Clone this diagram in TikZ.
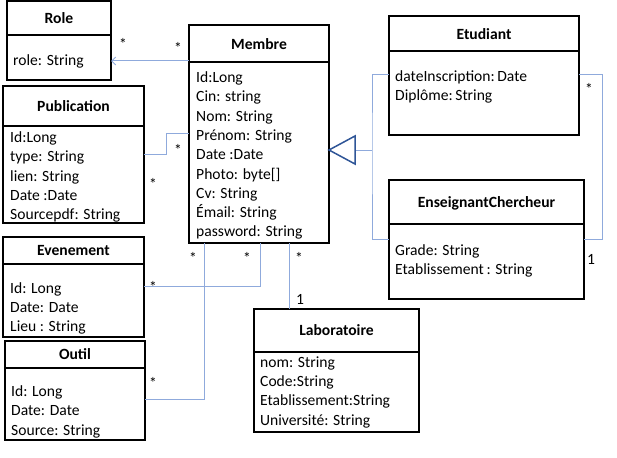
\documentclass[tikz,border=0pt]{standalone}
\usepackage{fontspec}
\setmainfont{Carlito}
\usetikzlibrary{arrows.meta}
\definecolor{conncol}{RGB}{143,170,220}
\definecolor{gencol}{RGB}{47,85,151}
\tikzset{
  cls/.style={draw, line width=1.4pt, inner sep=0pt, outer sep=0pt, anchor=north west},
  divline/.style={line width=1.4pt},
  ttl/.style={font=\fontsize{15.6}{19.3}\selectfont\bfseries, inner sep=0pt},
  attr/.style={font=\fontsize{15.6}{19.3}\selectfont, inner sep=0pt, anchor=base west},
  mult/.style={font=\fontsize{15.6}{19.3}\selectfont, inner sep=0pt, anchor=base},
  conn/.style={draw=conncol, line width=1pt},
}
\begin{document}
\begin{tikzpicture}[x=1pt,y=-1pt]
\useasboundingbox (0,0) rectangle (617,457);
% Boxes
\node[cls, minimum width=104, minimum height=79] (role) at (7,1) {};
\node[cls, minimum width=141, minimum height=137] (pub) at (3,86) {};
\node[cls, minimum width=140, minimum height=218] (membre) at (189,25) {};
\node[cls, minimum width=190, minimum height=119] (etud) at (389,16) {};
\node[cls, minimum width=195, minimum height=119] (ens) at (389,180) {};
\node[cls, minimum width=141, minimum height=100] (even) at (3,237) {};
\node[cls, minimum width=140, minimum height=99] (outil) at (5,341) {};
\node[cls, minimum width=165, minimum height=123] (labo) at (254,309) {};
% dividers
\draw[divline] (role.west |- 0,35) -- (role.east |- 0,35);
\draw[divline] (pub.west |- 0,126) -- (pub.east |- 0,126);
\draw[divline] (membre.west |- 0,62) -- (membre.east |- 0,62);
\draw[divline] (etud.west |- 0,51) -- (etud.east |- 0,51);
\draw[divline] (ens.west |- 0,224) -- (ens.east |- 0,224);
\draw[divline] (even.west |- 0,264) -- (even.east |- 0,264);
\draw[divline] (outil.west |- 0,368) -- (outil.east |- 0,368);
\draw[divline] (labo.west |- 0,352) -- (labo.east |- 0,352);
% titles
\node[ttl] (troleT) at (59,18) {Role};
\node[ttl] (tpubT) at (73.5,106) {Publication};
\node[ttl] (tmemT) at (259,44) {Membre};
\node[ttl] (tetuT) at (484,34) {Etudiant};
\node[ttl] (tensT) at (486.5,203) {EnseignantChercheur};
\node[ttl] (tevT) at (73.5,250.5) {Evenement};
\node[ttl] (toutT) at (75,354.5) {Outil};
\node[ttl] (tlabT) at (336.5,330.5) {Laboratoire};
% attributes
\node[attr] (ra) at (13,66) {role: String};
\foreach \t [count=\i from 0] in {{Id:Long},{type: String},{lien: String},{Date :Date},{Sourcepdf: String}}
  \node[attr] at (10,142.5+19.3*\i) {\t};
\foreach \t [count=\i from 0] in {{Id:Long},{Cin: string},{Nom: String},{Prénom: String},{Date :Date},{Photo: byte[]},{Cv: String},{Émail: String},{password: String}}
  \node[attr] at (196,82.5+19.3*\i) {\t};
\foreach \t [count=\i from 0] in {{dateInscription:\,Date},{Diplôme:\,String}}
  \node[attr] at (395,81.5+19.3*\i) {\t};
\foreach \t [count=\i from 0] in {{Grade: String},{Etablissement\,: String}}
  \node[attr] at (395,255+19.3*\i) {\t};
\foreach \t [count=\i from 0] in {{Id: Long},{Date: Date},{Lieu : String}}
  \node[attr] at (10,293.2+19.3*\i) {\t};
\foreach \t [count=\i from 0] in {{Id: Long},{Date: Date},{Source: String}}
  \node[attr] at (11,396.5+19.3*\i) {\t};
\foreach \t [count=\i from 0] in {{nom: String},{Code:String},{Etablissement:String},{Université: String}}
  \node[attr] at (260,367.2+19.3*\i) {\t};
% connectors
\draw[conn, -{Straight Barb[length=4pt,width=8pt]}] (membre.west |- 0,61) -- (role.east |- 0,61);
\draw[conn] (pub.east |- 0,154) -- (166,154) |- (membre.west |- 0,134);
\draw[conn] (even.east |- 0,286) -| (membre.south -| 260,0);
\draw[conn] (outil.east |- 0,399) -| (membre.south -| 204,0);
\draw[conn] (labo.north -| 289,0) -- (membre.south -| 289,0);
\coordinate (gtip) at (membre.east |- 0,150);
\coordinate (gbase) at (355,150);
\draw[conn] (gbase) -- (372,150);
\draw[conn] (etud.west |- 0,75) -| (372,150) |- (ens.west |- 0,239);
\draw[conn] (etud.east |- 0,75) -| (602,150) |- (ens.east |- 0,239);
\draw[draw=gencol, line width=1.5pt, fill=white, line join=miter] (gtip) -- (355,136) -- (355,164) -- cycle;
% multiplicities
\node[mult] (m1) at (123,50) {*};
\node[mult] (m2) at (178,54) {*};
\node[mult] (m3) at (178,155) {*};
\node[mult] (m4) at (153,189) {*};
\node[mult] (m5) at (153,292) {*};
\node[mult] (m6) at (193,263) {*};
\node[mult] (m7) at (247,263) {*};
\node[mult] (m8) at (299,263) {*};
\node[mult] (m9) at (153,388) {*};
\node[mult] (m10) at (589,95) {*};
\node[mult] (one1) at (300,304) {1};
\node[mult] (one2) at (591,264) {1};
\end{tikzpicture}
\end{document}
